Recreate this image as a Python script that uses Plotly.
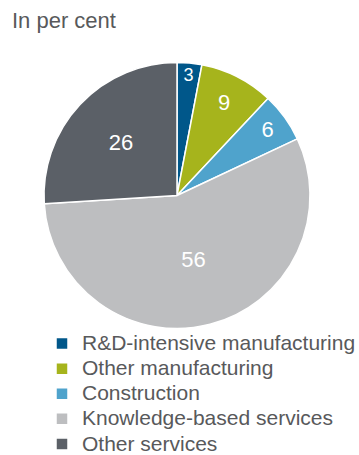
import plotly.graph_objects as go

categories = ["R&D-intensive manufacturing", "Other manufacturing", "Construction",
              "Knowledge-based services", "Other services"]
values = [3, 9, 6, 56, 26]
colors = ["#00578a", "#a6b41c", "#4fa3cc", "#bdbec0", "#5b6067"]

W, H = 359, 455
FONT = "Liberation Sans, Arial, sans-serif"

# larger legend glyphs while keeping the compact 25px row pitch
legend_labels = [f"<span style='font-size:21px'>{c}</span>" for c in categories]

cx, cy, r = 177, 195.5, 133
fig = go.Figure(go.Pie(
    labels=legend_labels,
    values=values,
    sort=False,
    direction="clockwise",
    rotation=0,
    marker=dict(colors=colors, line=dict(color="white", width=1.5)),
    textinfo="value",
    textposition="inside",
    insidetextorientation="horizontal",
    textfont=dict(color="white", size=22, family=FONT),
    domain=dict(x=[(cx - r) / W, (cx + r) / W], y=[1 - (cy + r) / H, 1 - (cy - r) / H]),
    hovertext=categories,
    hoverinfo="text+value",
))

fig.update_layout(
    width=W, height=H,
    margin=dict(l=0, r=0, t=0, b=0, autoexpand=False),
    paper_bgcolor="white",
    font=dict(family=FONT, color="#58595b"),
    title=dict(text="In per cent", x=12 / W, xanchor="left", y=1 - 20 / H, yanchor="middle",
               font=dict(size=22, color="#58595b")),
    showlegend=True,
    legend=dict(x=42 / W, xanchor="left", y=1 - 326 / H, yanchor="top",
                font=dict(size=17, color="#58595b"), traceorder="normal",
                bgcolor="rgba(0,0,0,0)"),
)

fig.write_html("out.html", config={"displayModeBar": False},
               post_script="document.body.style.margin='0';")
